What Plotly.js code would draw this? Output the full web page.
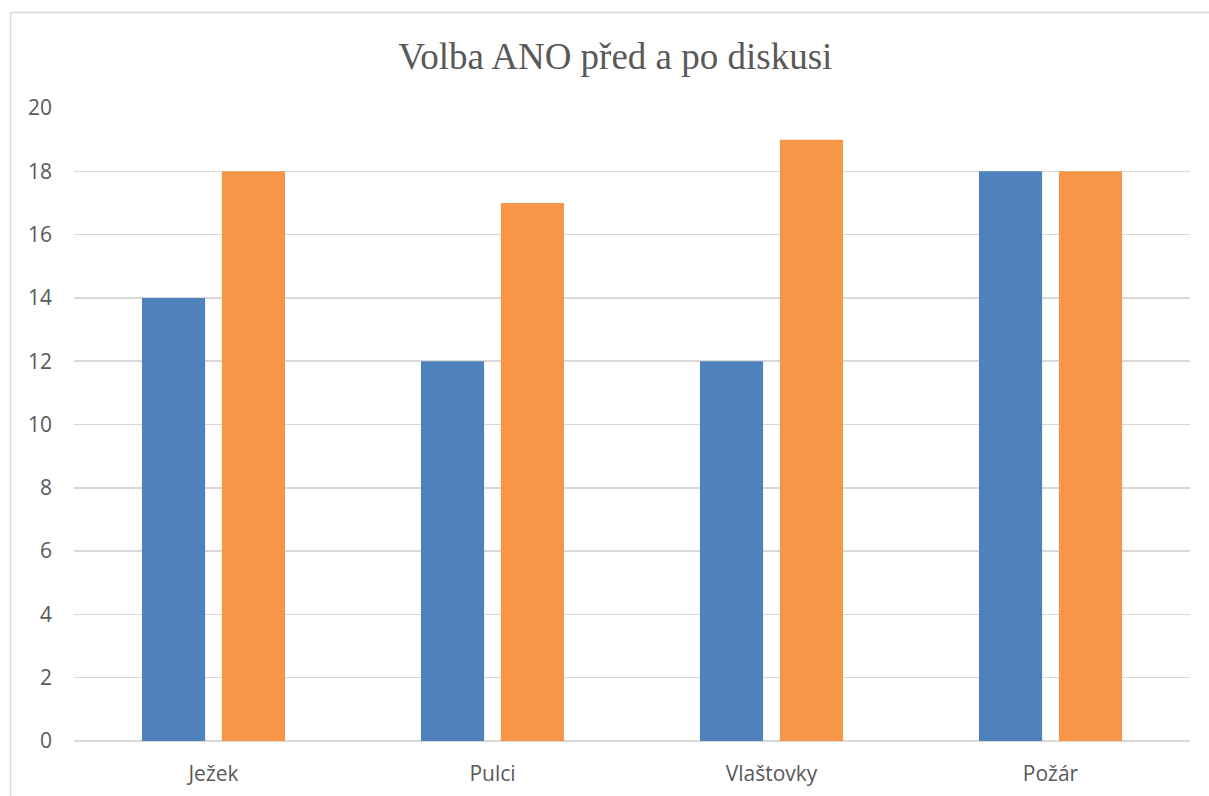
<!DOCTYPE html>
<html>
<head>
<meta charset="utf-8">
<script src="https://cdn.plot.ly/plotly-3.0.1.min.js"></script>
<style>
  html, body { margin: 0; padding: 0; background: #fff; }
  #chart { width: 1209px; height: 796px; }
</style>
</head>
<body>
<div id="chart"></div>
<script>
// Categories (groups) and the two series: before and after the discussion
const categories = ["Ježek", "Pulci", "Vlaštovky", "Požár"];
const pred = [14, 12, 12, 18];
const po = [18, 17, 19, 18];
const yTicks = [0, 2, 4, 6, 8, 10, 12, 14, 16, 18, 20];

const W = 1209, H = 796;
const M = { l: 74, r: 19, t: 108, b: 55 };
const plotW = W - M.l - M.r, plotH = H - M.t - M.b;
// outer chart-area frame expressed in paper coordinates
const px = v => (v - M.l) / plotW;
const py = v => (H - M.b - v) / plotH;

const traces = [
  { type: "bar", name: "před", x: categories, y: pred,
    marker: { color: "#4F81BD", line: { width: 0 } }, hoverinfo: "x+y" },
  { type: "bar", name: "po", x: categories, y: po,
    marker: { color: "#F79646", line: { width: 0 } }, hoverinfo: "x+y" }
];

const layout = {
  width: W, height: H,
  margin: M,
  paper_bgcolor: "#ffffff",
  plot_bgcolor: "#ffffff",
  showlegend: false,
  barmode: "group",
  bargap: 0.427,
  bargroupgap: 0.21,
  title: {
    text: "Volba ANO před a po diskusi",
    font: { family: "Liberation Serif, Times New Roman, serif", size: 37, color: "#595959" },
    x: 0.509, xanchor: "center", xref: "container",
    y: 0.93, yref: "container", yanchor: "middle"
  },
  font: { family: "Open Sans, Liberation Sans, sans-serif", color: "#595959", size: 21 },
  xaxis: {
    type: "category",
    showgrid: false, zeroline: false, showline: false,
    ticks: "", ticklen: 0,
    tickfont: { size: 21, color: "#595959" },
    ticklabelstandoff: 18,
    fixedrange: true
  },
  yaxis: {
    range: [0, 20],
    tickmode: "array", tickvals: yTicks, ticktext: yTicks.map(String),
    showgrid: true, gridcolor: "#d9d9d9", gridwidth: 1.5,
    zeroline: true, zerolinecolor: "#d9d9d9", zerolinewidth: 1.5,
    showline: false, ticks: "",
    tickfont: { size: 21, color: "#595959" },
    ticklabelstandoff: 21,
    fixedrange: true
  },
  shapes: [
    { type: "line", xref: "paper", yref: "paper",
      x0: px(10.5), x1: px(W + 5), y0: py(12.5), y1: py(12.5),
      line: { color: "#d9d9d9", width: 1.5 } },
    { type: "line", xref: "paper", yref: "paper",
      x0: px(10.5), x1: px(10.5), y0: py(12.5), y1: py(H + 5),
      line: { color: "#d9d9d9", width: 1.5 } }
  ]
};

Plotly.newPlot("chart", traces, layout, { staticPlot: true, displayModeBar: false });
</script>
</body>
</html>
